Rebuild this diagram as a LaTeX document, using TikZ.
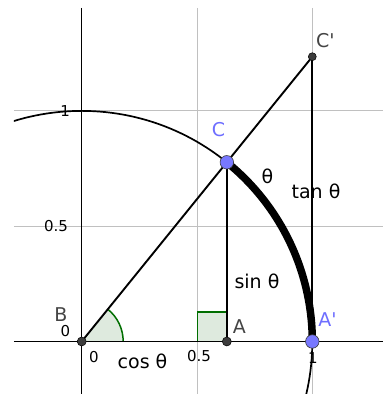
\documentclass[tikz,border=0pt]{standalone}
\usepackage{fontspec}
\setmainfont{DejaVu Sans}
\usetikzlibrary{calc}
\definecolor{gridgray}{RGB}{192,192,192}
\definecolor{ptblue}{RGB}{120,120,255}
\definecolor{lblblue}{RGB}{110,110,255}
\definecolor{ptgray}{RGB}{60,60,60}
\definecolor{lblgray}{RGB}{68,68,68}
\definecolor{anggreen}{RGB}{0,110,0}
\definecolor{angfill}{RGB}{222,234,222}
\begin{document}
\begin{tikzpicture}[x=230.6pt,y=230.6pt,
  gridline/.style={draw=gridgray, line width=1pt},
  axisline/.style={draw=black, line width=1.3pt},
  seg/.style={draw=black, line width=1.9pt},
  arcthick/.style={draw=black, line width=7.5pt},
  angmark/.style={fill=angfill, draw=anggreen, line width=1.5pt},
  bigpt/.style={circle, fill=ptblue, draw=ptgray, line width=0.6pt, minimum size=13.5pt, inner sep=0pt},
  smallpt/.style={circle, fill=ptgray, draw=black, line width=0.5pt, minimum size=9pt, inner sep=0pt},
  ticklbl/.style={font=\fontsize{15}{15}\selectfont, inner sep=0pt, text=black},
  ptlbl/.style={font=\fontsize{19}{19}\selectfont, inner sep=0pt, text=lblgray},
  bluelbl/.style={font=\fontsize{19}{19}\selectfont, inner sep=0pt, text=lblblue},
  mathlbl/.style={font=\fontsize{19}{19}\selectfont, inner sep=0pt, text=black}
]
\useasboundingbox (-0.3543,-0.2277) rectangle (1.3066,1.4809);
\clip (-0.2936,-0.2277) rectangle (1.3066,1.4462);
\def\th{51}
% grid
\coordinate (gl) at (-0.2936,0.5);
\coordinate (gr) at (1.31,0.5);
\coordinate (gl2) at (-0.2936,1);
\coordinate (gr2) at (1.31,1);
\coordinate (gt) at (0.5,1.4462);
\coordinate (gb) at (0.5,-0.23);
\coordinate (gt2) at (1,1.4462);
\coordinate (gb2) at (1,-0.23);
\draw[gridline] (gl) -- (gr);
\draw[gridline] (gl2) -- (gr2);
\draw[gridline] (gt) -- (gb);
\draw[gridline] (gt2) -- (gb2);
% axes
\coordinate (xl) at (-0.2936,0);
\coordinate (xr) at (1.31,0);
\coordinate (yt) at (0,1.4462);
\coordinate (yb) at (0,-0.23);
\draw[axisline] (xl) -- (xr);
\draw[axisline] (yt) -- (yb);
% tick labels
\node[ticklbl] (t0) at (0.0533,-0.0694) {0};
\node[ticklbl] (t05) at (0.5087,-0.065) {0.5};
\node[ticklbl] (t1) at (1.003,-0.0716) {1};
\node[ticklbl] (ty0) at (-0.0707,0.0434) {0};
\node[ticklbl] (ty05) at (-0.1114,0.5009) {0.5};
\node[ticklbl] (ty1) at (-0.0720,0.9974) {1};
% points
\coordinate (B) at (0,0);
\coordinate (A) at ({cos(\th)},0);
\coordinate (C) at ({cos(\th)},{sin(\th)});
\coordinate (Ap) at (1,0);
\coordinate (Cp) at (1,{tan(\th)});
% unit circle
\draw[black, line width=1.7pt] (B) circle[radius=1];
% angle marks
\fill[angfill] (B) -- (0.18,0) arc[start angle=0,end angle=\th,radius=0.18] -- cycle;
\draw[draw=anggreen, line width=1.5pt] (0.18,0) arc[start angle=0,end angle=\th,radius=0.18];
\draw[angmark] ($(A)+(-0.128,0)$) rectangle ($(A)+(0,0.128)$);
% segments
\draw[seg] (B) -- (Cp);
\draw[seg] (C) -- (A);
\draw[seg] (Cp) -- (Ap);
\draw[seg] (B) -- (A);
\draw[arcthick] (Ap) arc[start angle=0,end angle=\th,radius=1];
% dots
\node[smallpt] (Bd) at (B) {};
\node[smallpt] (Ad) at (A) {};
\node[smallpt, minimum size=8pt] (Cpd) at (Cp) {};
\node[bigpt] (Cd) at (C) {};
\node[bigpt] (Apd) at (Ap) {};
% labels
\node[ptlbl] (Bl) at (-0.0898,0.117) {B};
\node[ptlbl] (Al) at (0.684,0.0629) {A};
\node[bluelbl] (Apl) at (1.066,0.0932) {A\textquotesingle};
\node[bluelbl] (Cl) at (0.5933,0.9172) {C};
\node[ptlbl] (Cpl) at (1.0568,1.3053) {C\textquotesingle};
\node[mathlbl] (thl) at (0.8057,0.7155) {θ};
\node[mathlbl] (tanl) at (1.016,0.6526) {tan θ};
\node[mathlbl] (sinl) at (0.7602,0.2624) {sin θ};
\node[mathlbl] (cosl) at (0.2637,-0.0867) {cos θ};
\end{tikzpicture}
\end{document}
